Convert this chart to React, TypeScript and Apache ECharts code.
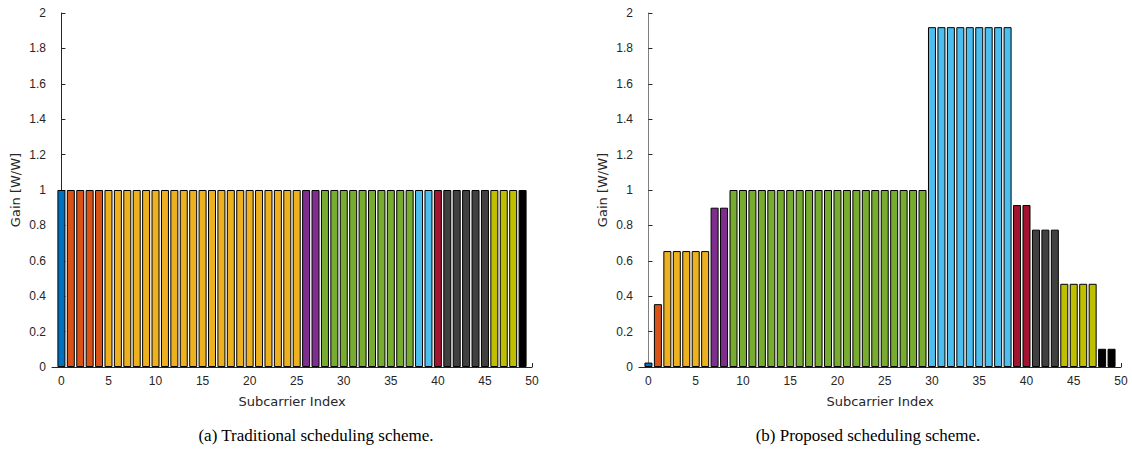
import React, { useEffect, useRef } from "react";
import * as echarts from "echarts";

// Subcarrier indices 0..49
const subcarriers: number[] = [
  0, 1, 2, 3, 4, 5, 6, 7, 8, 9, 10, 11, 12, 13, 14, 15, 16, 17, 18, 19,
  20, 21, 22, 23, 24, 25, 26, 27, 28, 29, 30, 31, 32, 33, 34, 35, 36, 37, 38, 39,
  40, 41, 42, 43, 44, 45, 46, 47, 48, 49,
];

// User (colour group) assigned to each subcarrier
const traditionalUsers: number[] = [
  0, 1, 1, 1, 1, 2, 2, 2, 2, 2, 2, 2, 2, 2, 2, 2, 2, 2, 2, 2,
  2, 2, 2, 2, 2, 2, 3, 3, 4, 4, 4, 4, 4, 4, 4, 4, 4, 4, 5, 5,
  6, 7, 7, 7, 7, 7, 8, 8, 8, 9,
];
const traditionalGains: number[] = [
  1, 1, 1, 1, 1, 1, 1, 1, 1, 1, 1, 1, 1, 1, 1, 1, 1, 1, 1, 1,
  1, 1, 1, 1, 1, 1, 1, 1, 1, 1, 1, 1, 1, 1, 1, 1, 1, 1, 1, 1,
  1, 1, 1, 1, 1, 1, 1, 1, 1, 1,
];

const proposedUsers: number[] = [
  0, 1, 2, 2, 2, 2, 2, 3, 3, 4, 4, 4, 4, 4, 4, 4, 4, 4, 4, 4,
  4, 4, 4, 4, 4, 4, 4, 4, 4, 4, 5, 5, 5, 5, 5, 5, 5, 5, 5, 6,
  6, 7, 7, 7, 8, 8, 8, 8, 9, 9,
];
const proposedGains: number[] = [
  0.025, 0.355, 0.655, 0.655, 0.655, 0.655, 0.655, 0.9, 0.9, 1, 1, 1, 1, 1, 1, 1, 1, 1, 1, 1,
  1, 1, 1, 1, 1, 1, 1, 1, 1, 1, 1.92, 1.92, 1.92, 1.92, 1.92, 1.92, 1.92, 1.92, 1.92, 0.915,
  0.915, 0.776, 0.776, 0.776, 0.47, 0.47, 0.47, 0.47, 0.103, 0.103,
];

const userColors: string[] = [
  "#0072BD", "#D95319", "#EDB120", "#7E2F8E", "#77AC30",
  "#4DBEEE", "#A2142F", "#404040", "#BFBF00", "#000000",
];

const xTicks: number[] = [0, 5, 10, 15, 20, 25, 30, 35, 40, 45, 50];

const captions: string[] = [
  "(a) Traditional scheduling scheme.",
  "(b) Proposed scheduling scheme.",
];

const FONT = "'Liberation Sans', Arial, Helvetica, sans-serif";
const NAME_FONT = "'DejaVu Sans', 'Liberation Sans', sans-serif";

function buildData(gains: number[], users: number[]) {
  return subcarriers.map((x, i) => ({
    value: [x, gains[i]],
    itemStyle: { color: userColors[users[i]] },
  }));
}

export default function App() {
  const ref = useRef<HTMLDivElement>(null);

  useEffect(() => {
    if (!ref.current) return;
    const chart = echarts.init(ref.current, undefined, { renderer: "svg" });

    const grids = [
      { left: 52, top: 13, width: 480, height: 354 },
      { left: 639, top: 13, width: 482, height: 354 },
    ];

    const xAxis = [0, 1].map((g) => ({
      type: "value",
      gridIndex: g,
      min: -1,
      max: 50,
      name: "Subcarrier Index",
      nameLocation: "middle",
      nameGap: 28,
      nameTextStyle: { fontFamily: NAME_FONT, fontSize: 13, color: "#262626" },
      axisLine: { show: true, lineStyle: { color: "#262626", width: 1 } },
      axisTick: {
        show: true,
        inside: true,
        length: 4,
        customValues: xTicks,
        lineStyle: { color: "#262626" },
      },
      axisLabel: {
        customValues: xTicks,
        fontFamily: FONT,
        fontSize: 12,
        color: "#262626",
        margin: 8,
      },
      splitLine: { show: false },
    }));

    const yAxis = [0, 1].map((g) => ({
      type: "value",
      gridIndex: g,
      min: 0,
      max: 2,
      interval: 0.2,
      name: "Gain [W/W]",
      nameLocation: "middle",
      nameGap: 30,
      nameTextStyle: { fontFamily: NAME_FONT, fontSize: 13, color: "#262626" },
      axisLine: {
        show: true,
        lineStyle: { color: g === 0 ? "#262626" : "#808080", width: 1 },
      },
      axisTick: { show: true, inside: true, length: 4, lineStyle: { color: "#262626" } },
      axisLabel: {
        fontFamily: FONT,
        fontSize: 12,
        color: "#262626",
        margin: 6,
      },
      splitLine: { show: false },
    }));

    const seriesStyle = {
      type: "bar",
      barWidth: 8,
      itemStyle: { borderColor: "#000000", borderWidth: 1 },
      emphasis: { disabled: true },
    };

    const captionStyle = {
      fontFamily: "'Liberation Serif', 'DejaVu Serif', serif",
      fontSize: 17,
      fill: "#000",
      align: "center",
      verticalAlign: "middle",
    };

    chart.setOption({
      animation: false,
      grid: grids,
      xAxis,
      yAxis,
      series: [
        { ...seriesStyle, xAxisIndex: 0, yAxisIndex: 0, data: buildData(traditionalGains, traditionalUsers) },
        { ...seriesStyle, xAxisIndex: 1, yAxisIndex: 1, data: buildData(proposedGains, proposedUsers) },
      ],
      graphic: [
        { type: "text", x: 316, y: 435, style: { ...captionStyle, text: captions[0] } },
        { type: "text", x: 868, y: 435, style: { ...captionStyle, text: captions[1] } },
      ],
    });

    return () => chart.dispose();
  }, []);

  return (
    <div
      ref={ref}
      style={{ position: "fixed", left: 0, top: 0, width: 1132, height: 459, background: "#fff" }}
    />
  );
}
